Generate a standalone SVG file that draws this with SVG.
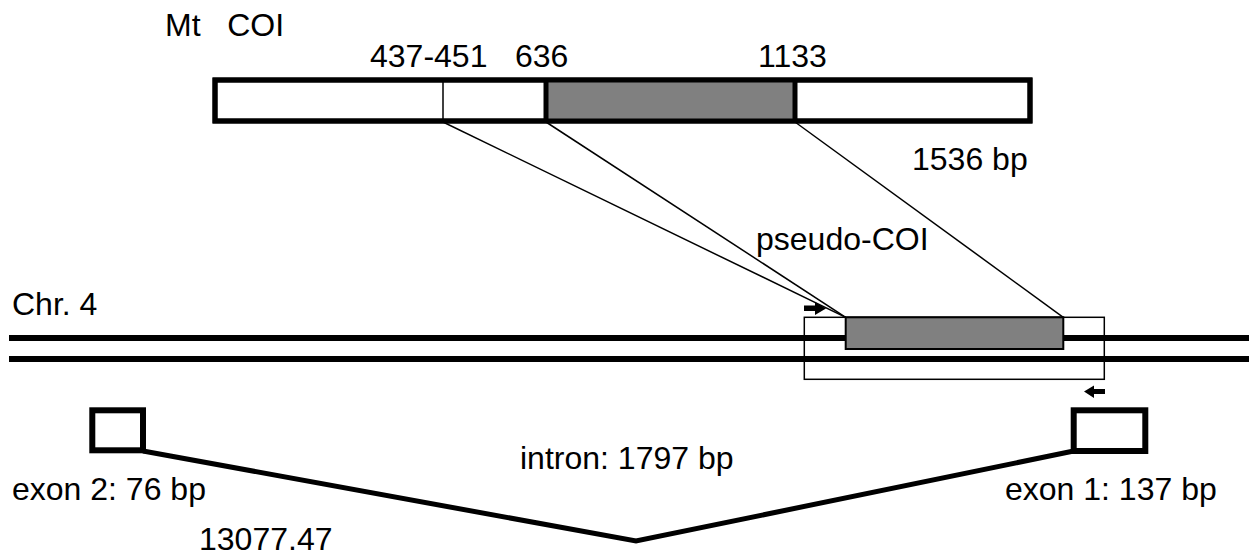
<svg xmlns="http://www.w3.org/2000/svg" width="1249" height="557" viewBox="0 0 1249 557">
<style>
text{font-family:"Liberation Sans",Arial,sans-serif;font-size:32px;fill:#000}
.thin{fill:none;stroke:#000;stroke-width:1.5}
.thick{stroke:#000;stroke-width:5;fill:none}
.chr{stroke:#000;stroke-width:6}
.gray{fill:#808080}
.arrow{fill:#000}
</style>
<rect width="1249" height="557" fill="#fff"/>
<g id="labels">
<text x="165" y="36" xml:space="preserve">Mt   COI</text>
<text x="370" y="67">437-451</text>
<text x="515" y="67">636</text>
<text x="758" y="67">1133</text>
<text x="912" y="170">1536 bp</text>
<text x="756" y="250">pseudo-COI</text>
<text x="12" y="315">Chr. 4</text>
<text x="520" y="469">intron: 1797 bp</text>
<text x="12" y="500">exon 2: 76 bp</text>
<text x="1005" y="500">exon 1: 137 bp</text>
<text x="199" y="550">13077.47</text>
</g>
<g id="mt-coi">
<rect x="215" y="80" width="815" height="41" fill="#fff" stroke="#000" stroke-width="5"/>
<rect class="gray" x="546" y="80" width="249" height="41"/>
<line class="thin" x1="443" y1="80" x2="443" y2="121"/>
<line class="thick" x1="546" y1="80" x2="546" y2="121"/>
<line class="thick" x1="795" y1="80" x2="795" y2="121"/>
<rect x="215" y="80" width="815" height="41" fill="none" stroke="#000" stroke-width="5"/>
</g>
<g id="chromosome">
<line class="chr" x1="9" y1="338" x2="1249" y2="338"/>
<line class="chr" x1="9" y1="359" x2="1249" y2="359"/>
</g>
<g id="pcr-region">
<rect class="thin" x="804.3" y="317.3" width="300" height="62"/>
</g>
<g id="pseudo-coi">
<rect x="845.7" y="317.3" width="217.6" height="31.7" fill="#808080" stroke="#000" stroke-width="2"/>
</g>
<g id="exon2">
<rect x="92.3" y="410.3" width="50.7" height="40" fill="#fff" stroke="#000" stroke-width="6"/>
</g>
<g id="exon1">
<rect x="1073.7" y="410.3" width="71.6" height="40.7" fill="#fff" stroke="#000" stroke-width="6"/>
</g>
<g id="primers">
<polygon class="arrow" points="804,305.5 815,305.5 815,302 826,308.5 815,315 815,311 804,311"/>
<polygon class="arrow" points="1105,389 1094,389 1094,385.5 1084,391.5 1094,398 1094,394 1105,394"/>
</g>
<g id="connectors">
<line class="thin" x1="443" y1="122" x2="845.7" y2="317.3"/>
<line class="thin" x1="546" y1="122" x2="845.7" y2="317.3"/>
<line class="thin" x1="795" y1="122" x2="1063.3" y2="317.3"/>
<polyline points="143,451 636,541 1073.7,451" fill="none" stroke="#000" stroke-width="5" stroke-linejoin="miter"/>
</g>
</svg>
